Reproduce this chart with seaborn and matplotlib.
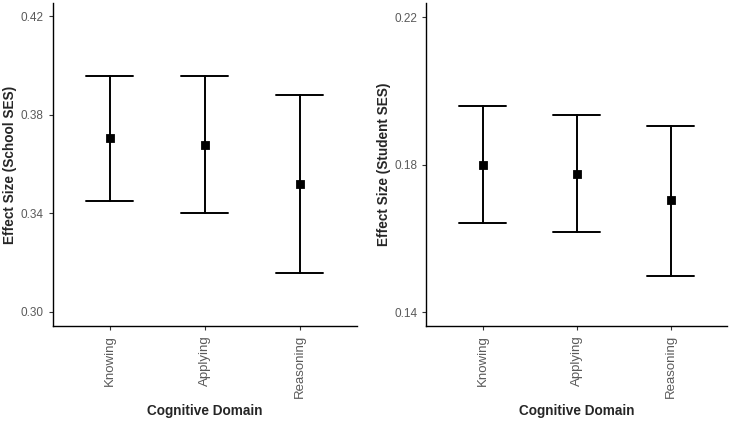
import numpy as np
import pandas as pd
import matplotlib
matplotlib.use("Agg")
import matplotlib.pyplot as plt
import seaborn as sns

domains = ["Knowing", "Applying", "Reasoning"]

school_est = [0.3705, 0.3678, 0.3519]
school_lo = [0.3450, 0.3400, 0.3159]
school_hi = [0.3959, 0.3959, 0.3880]

student_est = [0.1800, 0.1776, 0.1703]
student_lo = [0.1643, 0.1617, 0.1498]
student_hi = [0.1958, 0.1934, 0.1906]

school_ticks = [0.30, 0.34, 0.38, 0.42]
student_ticks = [0.14, 0.18, 0.22]

sns.set_theme(style="ticks")
plt.rcParams['font.family'] = ['Liberation Sans', 'DejaVu Sans']


def long_table(est, lo, hi):
    # three rows per domain: median = estimate, min/max = interval ends
    rows = []
    for d, e, l, h in zip(domains, est, lo, hi):
        for v in (l, e, h):
            rows.append({"domain": d, "value": v})
    return pd.DataFrame(rows)


fig = plt.figure(figsize=(7.34, 4.22), dpi=100)
ax1 = fig.add_axes([0.0718, 0.2275, 0.4142, 0.7654])
ax2 = fig.add_axes([0.5808, 0.2275, 0.4097, 0.7654])

panels = [
    (ax1, long_table(school_est, school_lo, school_hi), "Effect Size (School SES)",
     school_ticks, (0.2942, 0.4254)),
    (ax2, long_table(student_est, student_lo, student_hi), "Effect Size (Student SES)",
     student_ticks, (0.1363, 0.2238)),
]

for ax, df, ylab, ticks, lims in panels:
    sns.pointplot(data=df, x="domain", y="value", order=domains, ax=ax,
                  estimator=np.median, errorbar=lambda x: (x.min(), x.max()),
                  linestyle="none", marker="s", markersize=4.6, color="black",
                  capsize=0.5, err_kws={"linewidth": 1.4})
    ax.set_xlim(-0.6, 2.6)
    ax.set_ylim(*lims)
    ax.set_yticks(ticks)
    ax.set_yticklabels([f"{t:.2f}" for t in ticks])
    ax.set_xlabel("Cognitive Domain", fontsize=9.8, fontweight="bold", labelpad=4)
    ax.set_ylabel(ylab, fontsize=9.8, fontweight="bold", labelpad=2.5)
    ax.tick_params(axis="x", labelrotation=90, labelsize=9.5, length=3, width=0.8,
                   color="#333333", labelcolor="#5A5A5A")
    ax.tick_params(axis="y", labelsize=8.5, length=3, width=0.8,
                   color="#333333", labelcolor="#5A5A5A")
    for side in ["left", "bottom"]:
        ax.spines[side].set_linewidth(1.0)
        ax.spines[side].set_color("black")
    sns.despine(ax=ax)

fig.savefig("out.png", dpi=100)
